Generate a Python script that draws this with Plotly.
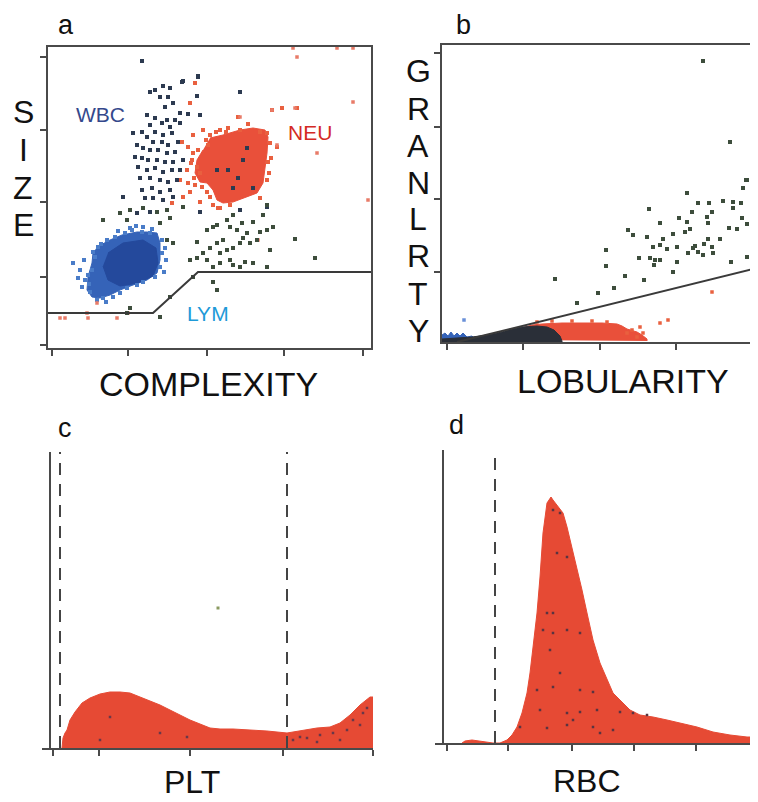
import plotly.graph_objects as go

# page body adds an 8px margin; the figure fills the rest of the 758x802 window
PAGE_W, PAGE_H, OFF = 758, 802, 8
W, H = PAGE_W - OFF, PAGE_H - OFF

# ---------------- Panel a: SIZE vs COMPLEXITY ----------------
lym_core_x = [49, 62, 74, 89, 99, 109, 112, 112, 109, 99, 85, 72, 62, 52, 44, 39, 40, 44, 45]
lym_core_y = [101, 108, 113, 116, 116, 115, 105, 88, 75, 68, 63, 58, 53, 50, 51, 58, 71, 85, 95]
lym_dense_x = [60, 75, 95, 108, 110, 105, 90, 72, 60, 55]
lym_dense_y = [95, 105, 108, 100, 85, 72, 65, 62, 68, 82]
lym_pts_x = [25, 32, 37, 34, 42, 49, 55, 65, 47, 50, 59, 67, 77, 84, 94, 102, 114, 114, 112, 107, 95, 89, 79, 72, 82, 95,
             44, 40, 30, 36, 45, 53, 70, 88, 104, 117, 118, 116, 58, 41]
lym_pts_y = [85, 78, 68, 61, 56, 48, 50, 51, 91, 101, 108, 111, 115, 118, 116, 115, 108, 95, 81, 71, 66, 63, 60, 55, 120, 121,
             78, 73, 70, 88, 96, 104, 117, 122, 119, 100, 88, 76, 46, 64]

neu_core_x = [162, 175, 192, 205, 217, 220, 219, 217, 215, 209, 199, 185, 175, 169, 165, 159, 152, 147, 149, 155]
neu_core_y = [210, 213, 218, 220, 218, 211, 195, 178, 165, 155, 151, 146, 145, 148, 158, 165, 166, 175, 188, 198]
neu_pts_x = [134, 140, 145, 144, 149, 152, 139, 132, 140, 147, 154, 159, 162, 142, 135, 124, 152, 165, 172, 145, 155, 162,
             142, 147, 190, 172, 192, 219, 220, 219, 224, 234, 249, 229, 212, 222, 223, 221, 200, 180, 168, 158, 150,
             143, 146, 170, 182, 212, 160, 178]
neu_pts_y = [206, 201, 195, 188, 181, 175, 178, 168, 165, 163, 161, 156, 151, 156, 151, 145, 146, 143, 140, 213, 218, 213,
             245, 265, 231, 218, 218, 215, 186, 168, 238, 240, 240, 201, 216, 205, 190, 175, 224, 220, 216, 208, 198,
             185, 170, 140, 143, 150, 203, 216]
neu_out_x = [245, 249, 289, 305, 305, 247, 224, 192, 229, 269, 320, 210, 49, 12, 17, 39, 69, 80, 40]
neu_out_y = [300, 291, 300, 300, 246, 240, 238, 231, 203, 195, 148, 108, 45, 30, 30, 35, 30, 35, 30]

wbc_x = [150, 134, 115, 102, 107, 122, 112, 120, 149, 125, 117, 132, 140, 152, 99, 107, 119, 127, 114, 122, 132, 102,
         94, 85, 107, 115, 124, 99, 105, 114, 120, 130, 89, 95, 102, 110, 119, 127, 87, 94, 100, 109, 117, 125, 135,
         90, 99, 107, 115, 124, 132, 92, 102, 112, 120, 129, 94, 104, 112, 122, 97, 105, 115, 125, 75, 82, 72, 89, 102,
         152, 192, 195, 190, 205, 185, 169, 180, 199, 219, 192, 94, 135, 150, 192]
wbc_y = [272, 266, 262, 256, 258, 260, 251, 251, 252, 245, 241, 235, 234, 233, 233, 230, 228, 228, 225, 221, 225, 223,
         216, 215, 216, 213, 215, 211, 206, 206, 203, 206, 203, 200, 198, 198, 195, 196, 191, 190, 188, 188, 186, 186,
         188, 181, 178, 180, 176, 178, 178, 170, 170, 168, 166, 168, 158, 160, 156, 158, 150, 150, 148, 151, 151, 138,
         135, 135, 136, 136, 256, 188, 170, 160, 160, 178, 178, 200, 141, 138, 287, 267, 271, 256]

mono_x = [72, 82, 95, 109, 119, 135, 55, 79, 112, 122, 119, 125, 149, 159, 165, 169, 179, 182, 189, 194, 199, 205,
          212, 219, 225, 219, 215, 185, 175, 169, 162, 155, 149, 142, 159, 172, 179, 185, 192, 195, 202, 209, 222,
          182, 172, 165, 185, 192, 197, 205, 219, 165, 169, 145, 122, 112, 82, 79, 247, 267]
mono_y = [135, 138, 140, 136, 138, 141, 128, 128, 125, 130, 108, 105, 106, 118, 121, 123, 128, 121, 118, 125, 115, 126,
          116, 118, 121, 143, 133, 133, 108, 105, 100, 95, 90, 88, 88, 95, 98, 100, 105, 110, 105, 108, 98,
          88, 85, 81, 83, 81, 86, 85, 81, 66, 58, 71, 51, 31, 40, 35, 109, 90]

gate_a_x = [0, 105, 150, 323]
gate_a_y = [35, 35, 76, 76]

# ---------------- Panel b: GRANLRTY vs LOBULARITY ----------------
b_red_x = [76, 80, 90, 100, 120, 140, 160, 175, 180, 185, 195, 200, 205, 205]
b_red_y = [2, 14, 17, 18, 19, 19, 19, 18, 16, 13, 10, 7, 3, 1]
b_red_pts_x = [185, 190, 198, 201, 195, 270, 218, 226, 110, 130, 150, 165, 95]
b_red_pts_y = [9, 12, 15, 9, 5, 50, 19, 22, 21, 21, 21, 20, 20]
b_dark_x = [0, 0, 15, 30, 45, 60, 70, 80, 95, 105, 112, 118, 120, 120]
b_dark_y = [0, 3, 4, 5, 7, 10, 13, 15, 16, 15, 12, 6, 1, 0]
b_blue_x = [0, 0, 3, 6, 9, 12, 15, 18, 21, 25, 30, 33, 33]
b_blue_y = [0, 7, 9, 6, 10, 6, 9, 6, 9, 5, 6, 3, 0]
b_blue_pts_x = [22]
b_blue_pts_y = [22]
b_gran_x = [304, 315, 301, 245, 207, 256, 267, 281, 291, 299, 291, 270, 250, 218, 237, 245, 265, 266, 300, 305, 287,
            295, 248, 243, 186, 191, 205, 231, 278, 266, 221, 211, 218, 225, 235, 253, 262, 251, 246, 256, 261, 270,
            271, 164, 197, 208, 213, 218, 212, 235, 289, 305, 164, 113, 183, 202, 231, 172, 156, 135, 261, 288, 305]
b_gran_y = [162, 157, 154, 149, 133, 139, 139, 141, 140, 139, 134, 130, 130, 119, 124, 120, 125, 119, 124, 118, 114,
            113, 113, 110, 112, 107, 105, 108, 103, 103, 103, 95, 97, 93, 95, 96, 98, 94, 89, 90, 87, 95,
            89, 92, 84, 84, 82, 82, 77, 80, 80, 85, 76, 63, 66, 62, 70, 54, 49, 39, 281, 200, 162]
gate_b_x = [15, 315]
gate_b_y = [0, 74]

# ---------------- Panel c: PLT histogram ----------------
plt_x = [12, 13, 15, 17, 20, 25, 32, 40, 50, 60, 70, 80, 90, 100, 110, 120, 130, 140, 150, 160, 170, 183, 200,
         217, 237, 243, 250, 267, 280, 290, 300, 310, 320, 323]
plt_y = [0, 10, 15, 18, 28, 36, 45, 50, 54, 56, 56, 55, 51, 47, 43, 38, 33, 28, 24, 20, 19, 19, 18,
         17, 15, 16, 17, 20, 21, 25, 33, 43, 51, 51]
plt_speck_x = [243, 250, 257, 270, 283, 297, 303, 313, 317, 310, 290, 267, 60, 110, 50, 137]
plt_speck_y = [8, 11, 10, 13, 15, 18, 28, 35, 40, 23, 8, 6, 31, 15, 8, 11]
plt_gates = [10, 237]
plt_stray_x = [168]
plt_stray_y = [140]

# ---------------- Panel d: RBC histogram ----------------
rbc_x = [19, 22, 29, 47, 50, 57, 64, 69, 74, 79, 84, 87, 90, 94, 97, 100, 104, 108, 110, 115, 120, 124, 129, 134,
         139, 144, 150, 157, 164, 170, 177, 187, 197, 210, 224, 237, 254, 270, 287, 304, 314]
rbc_y = [0, 2, 3, 1, 0, 0, 3, 8, 16, 30, 50, 70, 96, 130, 166, 210, 240, 246, 243, 236, 230, 216, 196, 176,
         153, 130, 103, 80, 63, 50, 43, 33, 28, 26, 23, 20, 16, 11, 8, 6, 6]
rbc_speck_x = [110, 117, 114, 124, 104, 110, 100, 110, 124, 137, 107, 117, 94, 110, 137, 150, 97, 124, 137, 154,
               177, 190, 204, 77, 104, 124, 150, 170, 157, 130]
rbc_speck_y = [233, 230, 190, 186, 130, 130, 113, 110, 113, 110, 93, 70, 53, 56, 53, 51, 33, 30, 31, 33,
               31, 30, 28, 16, 15, 18, 16, 13, 10, 23]
rbc_gates = [52]

# ---------------- styling ----------------
FONT = "Liberation Sans, Arial, sans-serif"
AX = "#4a4a4a"
RED = "#e9503a"
HRED = "#e64a34"
BLUE = "#3563b8"
BLUE_D = "#24499c"
NAVY = "#2c3a50"
OLIVE = "#3d4d3c"

fig = go.Figure()

def pts(x, y, color, size=4, xa="x", ya="y", symbol="square", opacity=1.0):
    fig.add_trace(go.Scatter(x=x, y=y, mode="markers", xaxis=xa, yaxis=ya,
                             marker=dict(color=color, size=size, symbol=symbol, opacity=opacity,
                                         line=dict(width=0)),
                             hoverinfo="skip"))

def poly(x, y, color, xa="x", ya="y"):
    fig.add_trace(go.Scatter(x=x, y=y, mode="lines", fill="toself", fillcolor=color,
                             line=dict(color=color, width=1), xaxis=xa, yaxis=ya, hoverinfo="skip"))

# panel a
poly(lym_core_x, lym_core_y, BLUE)
poly(lym_dense_x, lym_dense_y, BLUE_D)
pts(lym_pts_x, lym_pts_y, "#4a7cc8")
poly(neu_core_x, neu_core_y, RED)
pts(neu_pts_x, neu_pts_y, "#e9603f")
pts(neu_out_x, neu_out_y, "#e87b68", size=3.5)
pts(wbc_x, wbc_y, NAVY)
pts(mono_x, mono_y, OLIVE)
fig.add_trace(go.Scatter(x=gate_a_x, y=gate_a_y, mode="lines", line=dict(color="#3a3a3a", width=2),
                         xaxis="x", yaxis="y", hoverinfo="skip"))

# panel b
poly(b_red_x, b_red_y, RED, "x2", "y2")
pts(b_red_pts_x, b_red_pts_y, "#e9603f", 3.5, "x2", "y2")
poly(b_blue_x, b_blue_y, BLUE, "x2", "y2")
pts(b_blue_pts_x, b_blue_pts_y, "#6a90d8", 3.5, "x2", "y2")
poly(b_dark_x, b_dark_y, "#2a2f38", "x2", "y2")
pts(b_gran_x, b_gran_y, OLIVE, 4, "x2", "y2")
fig.add_trace(go.Scatter(x=gate_b_x, y=gate_b_y, mode="lines", line=dict(color="#3a3a3a", width=2),
                         xaxis="x2", yaxis="y2", hoverinfo="skip"))

# panel c
fig.add_trace(go.Scatter(x=plt_x, y=plt_y, mode="lines", fill="tozeroy", fillcolor=HRED,
                         line=dict(color=HRED, width=1), xaxis="x3", yaxis="y3", hoverinfo="skip"))
pts(plt_speck_x, plt_speck_y, "#6a3848", 2.5, "x3", "y3")
pts(plt_stray_x, plt_stray_y, "#8a9a60", 3, "x3", "y3")
for g in plt_gates:
    fig.add_trace(go.Scatter(x=[g, g], y=[0, 296], mode="lines", xaxis="x3", yaxis="y3",
                             line=dict(color="#444", width=2, dash="12px,9px"), hoverinfo="skip"))

# panel d
fig.add_trace(go.Scatter(x=rbc_x, y=rbc_y, mode="lines", fill="tozeroy", fillcolor=HRED,
                         line=dict(color=HRED, width=1), xaxis="x4", yaxis="y4", hoverinfo="skip"))
pts(rbc_speck_x, rbc_speck_y, "#5a3440", 2.5, "x4", "y4")
for g in rbc_gates:
    fig.add_trace(go.Scatter(x=[g, g], y=[0, 293], mode="lines", xaxis="x4", yaxis="y4",
                             line=dict(color="#444", width=2, dash="12px,9px"), hoverinfo="skip"))

def fx(p):
    return (p - OFF) / W

def fy(p):
    return 1 - (p - OFF) / H

common = dict(showgrid=False, zeroline=False, showticklabels=False, showline=True, linecolor=AX,
              linewidth=2, ticks="outside", ticklen=6, tickwidth=2, tickcolor=AX, fixedrange=True)

fig.update_layout(
    width=W, height=H, margin=dict(l=0, r=0, t=0, b=0), autosize=False,
    paper_bgcolor="white", plot_bgcolor="white", showlegend=False,
    xaxis=dict(domain=[fx(48), fx(371)], range=[0, 323], tickvals=[4, 80, 159, 236, 315],
               mirror=True, anchor="y", **common),
    yaxis=dict(domain=[fy(348), fy(47)], range=[0, 301], tickvals=[3, 71, 146, 218, 291],
               mirror=True, anchor="x", **common),
    xaxis2=dict(domain=[fx(442), min(1.0, fx(757))], range=[0, 315], tickvals=[5, 81, 158, 234, 313],
                mirror=True, anchor="y2", **common),
    yaxis2=dict(domain=[fy(342), fy(45)], range=[0, 297], tickvals=[70, 143, 215, 289],
                mirror=True, anchor="x2", **common),
    xaxis3=dict(domain=[fx(42), fx(373)], range=[-8, 323], tickvals=[3, 49, 140, 233, 323],
                anchor="y3", **common),
    yaxis3=dict(domain=[fy(748), fy(452)], range=[0, 296], anchor="free", position=fx(50),
                **{**common, "ticks": ""}),
    xaxis4=dict(domain=[fx(435), min(1.0, fx(757))], range=[-8, 314], tickvals=[4, 65, 129, 191, 253],
                anchor="y4", **common),
    yaxis4=dict(domain=[fy(743), fy(450)], range=[0, 293], anchor="free", position=fx(443),
                **{**common, "ticks": ""}),
)

ann = []
def text(t, x, y, size, color="#111"):
    ann.append(dict(text=t, x=fx(x), y=fy(y), xref="paper", yref="paper", showarrow=False,
                    xanchor="center", yanchor="middle", font=dict(family=FONT, size=size, color=color)))

# panel letters
text("a", 66, 25, 27)
text("b", 463, 25, 27)
text("c", 65, 428, 27)
text("d", 456, 425, 27)
# axis titles
text("COMPLEXITY", 208, 384, 34)
text("LOBULARITY", 623, 381, 34)
text("PLT", 192, 782, 32)
text("RBC", 587, 781, 32)
for ch, yy in zip("SIZE", [112, 150, 188, 225]):
    text(ch, 23, yy, 32)
for ch, yy in zip("GRANLRTY", [71, 109, 146, 183, 219, 256, 294, 331]):
    text(ch, 418, yy, 32)

# population labels (data coords)
ann.append(dict(text="WBC", x=52, y=233, xref="x", yref="y", showarrow=False,
                font=dict(family=FONT, size=21, color="#34488c")))
ann.append(dict(text="NEU", x=262, y=215, xref="x", yref="y", showarrow=False,
                font=dict(family=FONT, size=21, color="#d42a25")))
ann.append(dict(text="LYM", x=160, y=35, xref="x", yref="y", showarrow=False,
                font=dict(family=FONT, size=21, color="#1e9ad8")))
fig.update_layout(annotations=ann)

fig.write_html("out.html")
